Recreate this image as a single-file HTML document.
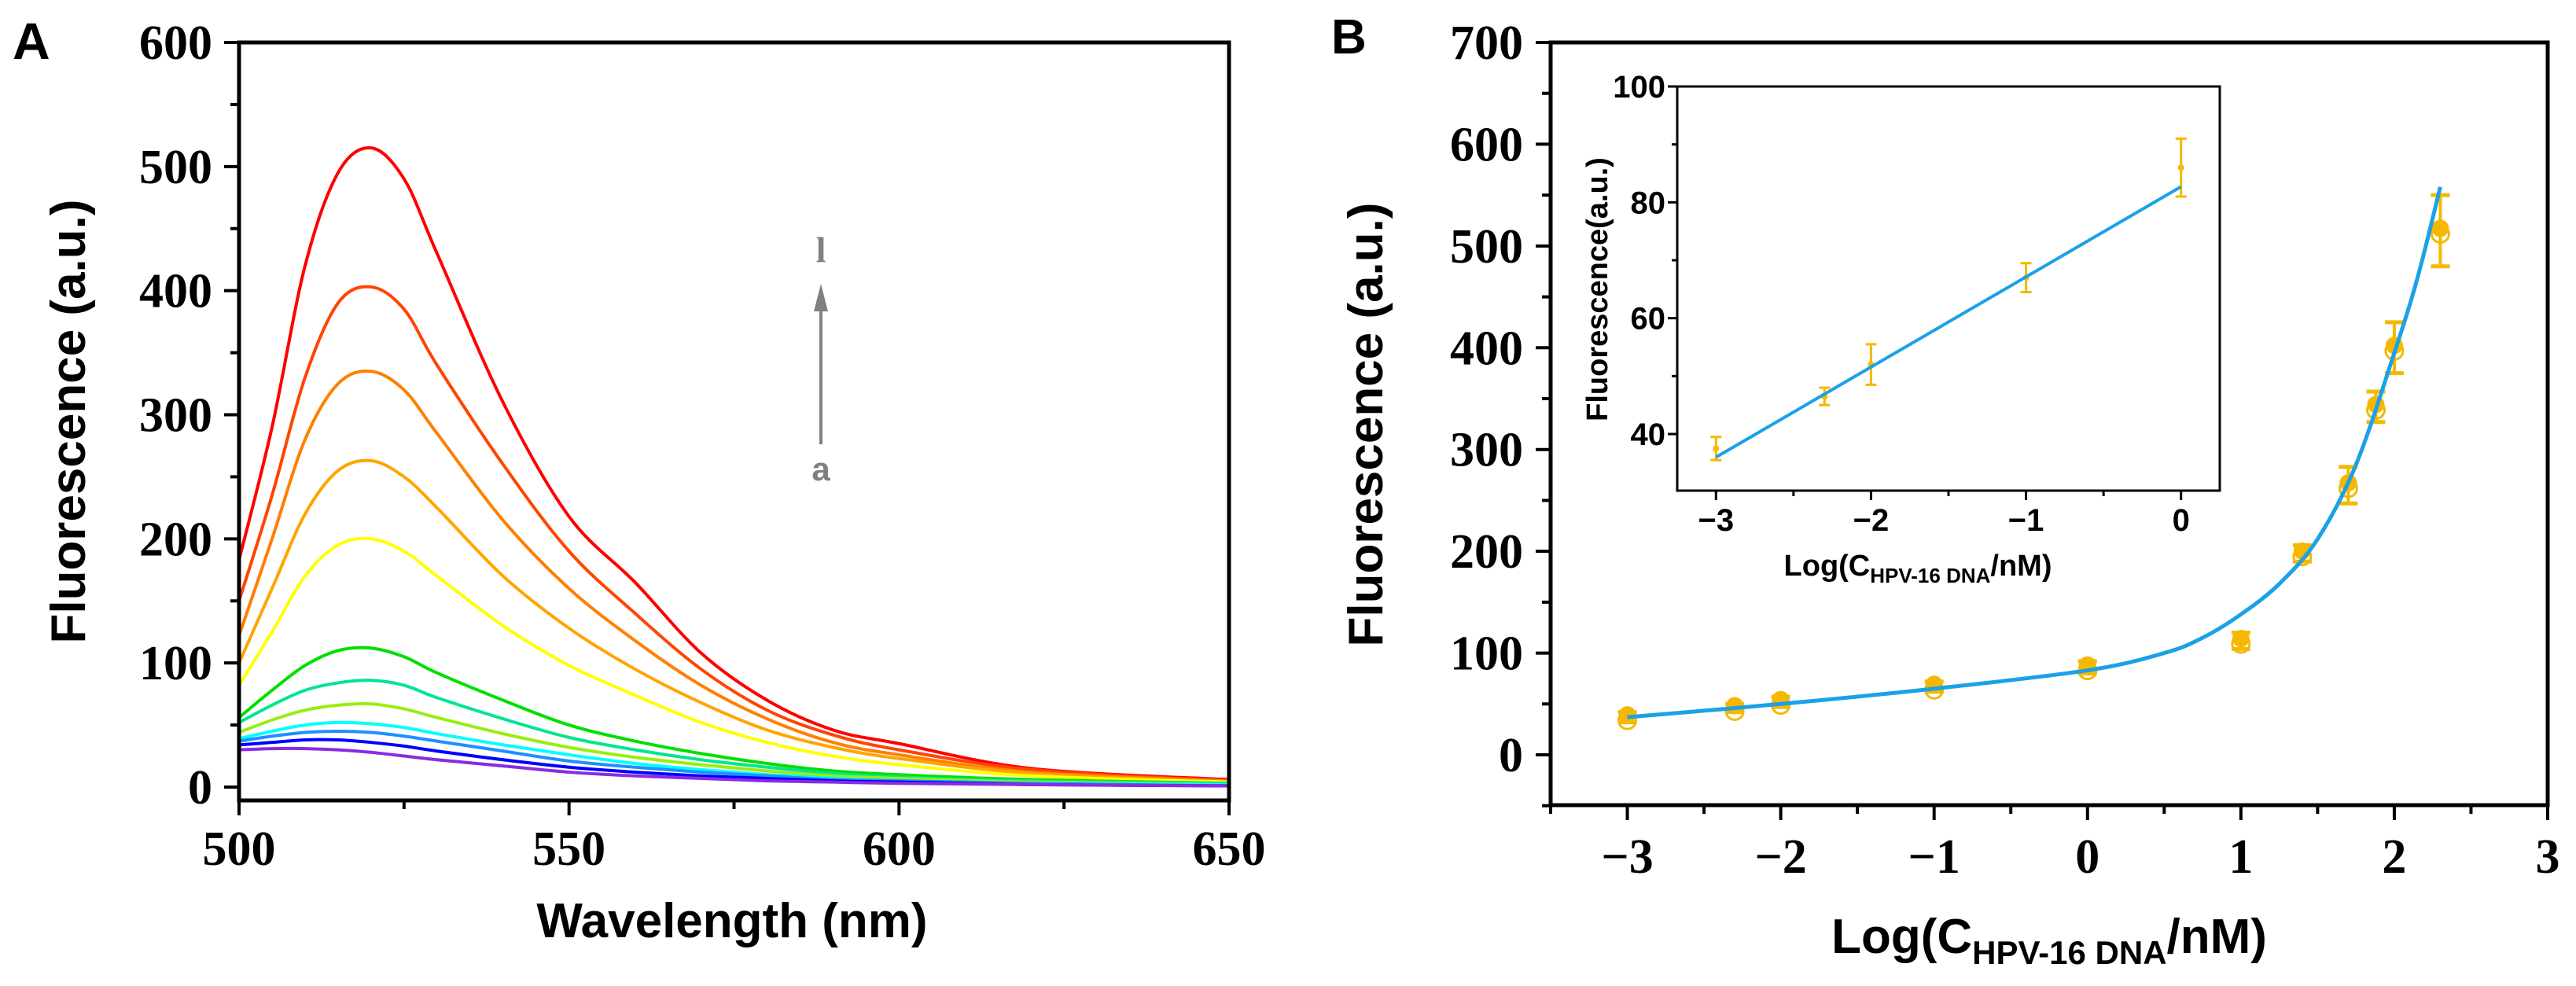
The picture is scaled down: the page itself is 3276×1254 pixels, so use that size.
<!DOCTYPE html>
<html><head><meta charset="utf-8"><style>
html,body{margin:0;padding:0;background:#fff;}
svg{display:block;}
.tk{font-family:"Liberation Serif",serif;font-weight:bold;font-size:62px;fill:#000;}
.ti{font-family:"Liberation Sans",sans-serif;font-weight:bold;fill:#000;}
.it{font-family:"Liberation Sans",sans-serif;font-weight:bold;font-size:40px;fill:#000;}
</style></head><body>
<svg id="fig" width="3276" height="1254" viewBox="0 0 3276 1254" xmlns="http://www.w3.org/2000/svg"></svg>
<script>
// ---------- Panel A data ----------
const wavelengths = [500,505,510,515,520,525,530,540,550,560,570,580,590,600,620,650];
const curveLabels = ['l','k','j','i','h','g','f','e','d','c','b','a'];
const curveColors = ['#ff0000','#ff4500','#ff7f00','#ffa500','#ffff00','#00e000','#00e690','#9aee10','#00ffff','#1e90ff','#0000ff','#8a2be2'];
const sRed     = [183,290,420,495,515,490,430,310,218,165,108,70,46,35,15,6];
const sOrRed   = [150,235,330,390,403,385,340,260,190,140,95,62,42,30,14,5];
const sOrange  = [122,200,280,325,335,320,285,215,160,118,82,55,36,26,12,5];
const sLtOr    = [100,160,220,255,263,250,225,170,128,95,68,46,32,23,11,4];
const sYellow  = [82,125,170,195,200,190,170,130,98,74,52,36,25,18,9,4];
const sGreen   = [56,78,98,110,112,105,92,70,50,37,27,19,13,10,6,3];
const sTeal    = [52,66,78,84,86,82,72,55,40,30,22,16,11,8,5,3];
const sYG      = [44,54,62,66,67,63,56,43,32,24,18,13,9,7,4,2];
const sCyan    = [39,45,50,52,51,48,43,34,26,19,14,10,7,5,3,2];
const sBlue    = [37,41,44,45,44,41,37,29,21,16,12,9,6,5,3,1];
const sDkBlue  = [34,36,38,38,36,33,29,22,16,12,9,7,5,4,2,1];
const sPurple  = [30,31,31,30,28,25,22,17,12,9,7,5,4,3,2,1];
const seriesA = [sRed,sOrRed,sOrange,sLtOr,sYellow,sGreen,sTeal,sYG,sCyan,sBlue,sDkBlue,sPurple];
const aXTicks = [500,550,600,650];
const aYTicks = [0,100,200,300,400,500,600];

// ---------- Panel B data ----------
const bX   = [-3,-2.3,-2,-1,0,1,1.4,1.7,1.88,2,2.3];
const bY   = [37,46,52,67,86,112,198,265,342,400,515];
const bErr = [5,4,5,5,6,8,8,18,15,25,35];
const fitX = [-3,-2,-1,0,0.5,0.75,1,1.25,1.5,1.75,2,2.15,2.3];
const fitY = [37,50,65,83,100,115,138,168,212,285,395,468,558];
const bXTicks = [-3,-2,-1,0,1,2,3];
const bYTicks = [0,100,200,300,400,500,600,700];

// ---------- Inset data ----------
const insX   = [-3,-2.3,-2,-1,0];
const insY   = [37.5,46.5,52,67,86];
const insErr = [2,1.5,3.5,2.5,5];
const insFitX = [-3,0];
const insFitY = [36,82.7];
const insXTicks = [-3,-2,-1,0];
const insYTicks = [40,60,80,100];

const NS='http://www.w3.org/2000/svg';
const svg=document.getElementById('fig');
function mk(tag,attrs,parent){const e=document.createElementNS(NS,tag);for(const k in attrs)e.setAttribute(k,attrs[k]);(parent||svg).appendChild(e);return e;}
function lin(d0,d1,r0,r1){return v=>r0+(v-d0)*(r1-r0)/(d1-d0);}
function smooth(pts){let d='M'+pts[0][0]+','+pts[0][1];for(let i=0;i<pts.length-1;i++){const p0=pts[Math.max(0,i-1)],p1=pts[i],p2=pts[i+1],p3=pts[Math.min(pts.length-1,i+2)];const c1x=p1[0]+(p2[0]-p0[0])/6,c1y=p1[1]+(p2[1]-p0[1])/6,c2x=p2[0]-(p3[0]-p1[0])/6,c2y=p2[1]-(p3[1]-p1[1])/6;d+=' C'+c1x+','+c1y+' '+c2x+','+c2y+' '+p2[0]+','+p2[1];}return d;}

// ================= Panel A =================
const axL=304, axR=1563, axT=54, axB=1018;
const ax=lin(500,650,axL,axR), ay=lin(0,600,1001,54);
const gA=mk('g',{});


seriesA.forEach((s,i)=>{
  const p=mk('path',{d:smooth(wavelengths.map((w,j)=>[ax(w),ay(s[j])])),fill:'none',stroke:curveColors[i],'stroke-width':4,'stroke-linejoin':'round'},gA);
  
  
});
const frameA=mk('rect',{x:axL,y:axT,width:axR-axL,height:axB-axT,fill:'none',stroke:'#000','stroke-width':5},gA);


for(let v=0;v<=600;v+=50){const major=v%100===0;mk('line',{x1:axL,x2:axL-(major?19:11),y1:ay(v),y2:ay(v),stroke:'#000','stroke-width':4},gA);}
aYTicks.forEach(v=>{const t=mk('text',{x:270,y:ay(v)+21,'text-anchor':'end',class:'tk'},gA);t.textContent=v;
  
  });
for(let v=500;v<=650;v+=25){const major=v%50===0;mk('line',{x1:ax(v),x2:ax(v),y1:axB,y2:axB+(major?19:11),stroke:'#000','stroke-width':4},gA);}
aXTicks.forEach(v=>{const t=mk('text',{x:ax(v),y:1100,'text-anchor':'middle',class:'tk'},gA);t.textContent=v;
  
  });
let t=mk('text',{x:931,y:1192,'text-anchor':'middle',class:'ti','font-size':62},gA);t.textContent='Wavelength (nm)';


t=mk('text',{x:0,y:0,'text-anchor':'middle',class:'ti','font-size':62,transform:'translate(108,536) rotate(-90)'},gA);t.textContent='Fluorescence (a.u.)';


t=mk('text',{x:16,y:75,class:'ti','font-size':66},gA);t.textContent='A';


const arr=mk('line',{x1:1044,x2:1044,y1:565,y2:392,stroke:'#808080','stroke-width':4},gA);


mk('polygon',{points:'1044,361 1035,396 1053,396',fill:'#808080'},gA);
t=mk('text',{x:1044,y:333,'text-anchor':'middle','font-family':'Liberation Serif, serif','font-weight':'bold','font-size':46,fill:'#808080'},gA);t.textContent='l';


t=mk('text',{x:1044,y:611,'text-anchor':'middle','font-family':'Liberation Sans, sans-serif','font-weight':'bold','font-size':42,fill:'#808080'},gA);t.textContent='a';



// ================= Panel B =================
const bL=1972,bR=3240,bT=54,bB=1024;
const bx=lin(-3.5,3,bL,bR), by=lin(0,700,960,54);
const gB=mk('g',{});


const frameB=mk('rect',{x:bL,y:bT,width:bR-bL,height:bB-bT,fill:'none',stroke:'#000','stroke-width':5},gB);


for(let v=-50;v<=700;v+=50){const major=v%100===0;mk('line',{x1:bL,x2:bL-(major?19:11),y1:by(v),y2:by(v),stroke:'#000','stroke-width':4},gB);}
bYTicks.forEach(v=>{const e=mk('text',{x:1937,y:by(v)+21,'text-anchor':'end',class:'tk'},gB);e.textContent=v;
  
  });
for(let v=-3.5;v<=3.001;v+=0.5){const major=Math.abs(v-Math.round(v))<1e-6;mk('line',{x1:bx(v),x2:bx(v),y1:bB,y2:bB+(major?19:11),stroke:'#000','stroke-width':4},gB);}
bXTicks.forEach(v=>{const e=mk('text',{x:bx(v),y:1110,'text-anchor':'middle',class:'tk'},gB);e.textContent=(v<0?'\u2212'+(-v):v);
  
  });
t=mk('text',{x:2606,y:1212,'text-anchor':'middle',class:'ti','font-size':62},gB);
t.innerHTML='Log(C<tspan font-size="42" dy="14">HPV-16 DNA</tspan><tspan dy="-14">/nM)</tspan>';


t=mk('text',{x:0,y:0,'text-anchor':'middle',class:'ti','font-size':62,transform:'translate(1758,540) rotate(-90)'},gB);t.textContent='Fluorescence (a.u.)';


t=mk('text',{x:1693,y:68,class:'ti','font-size':62},gB);t.textContent='B';


const OR='#f5b800';
bX.forEach((x,i)=>{
  const g=mk('g',{},gB);
  
  
  const X=bx(x),Y=by(bY[i]),t1=by(bY[i]+bErr[i]),b1=by(bY[i]-bErr[i]);
  mk('line',{x1:X,x2:X,y1:t1,y2:b1,stroke:OR,'stroke-width':4},g);
  mk('line',{x1:X-12,x2:X+12,y1:t1,y2:t1,stroke:OR,'stroke-width':5},g);
  mk('line',{x1:X-12,x2:X+12,y1:b1,y2:b1,stroke:OR,'stroke-width':5},g);
  mk('circle',{cx:X,cy:Y-3,r:11,fill:OR},g);
  mk('circle',{cx:X,cy:Y+4,r:11,fill:'none',stroke:OR,'stroke-width':3},g);
});
const fit=mk('path',{d:smooth(fitX.map((x,i)=>[bx(x),by(fitY[i])])),fill:'none',stroke:'#1ba1e6','stroke-width':5},gB);



// ================= Inset =================
const iL=2133,iR=2823,iT=110,iB=624;
const ix=lin(-3.25,0.25,iL,iR), iy=lin(40,100,552,110);
const gI=mk('g',{});


const frameI=mk('rect',{x:iL,y:iT,width:iR-iL,height:iB-iT,fill:'#fff',stroke:'#000','stroke-width':3},gI);


for(let v=40;v<=100;v+=10){const major=v%20===0;mk('line',{x1:iL,x2:iL-(major?12:7),y1:iy(v),y2:iy(v),stroke:'#000','stroke-width':3},gI);}
insYTicks.forEach(v=>{const e=mk('text',{x:2118,y:iy(v)+14,'text-anchor':'end',class:'it'},gI);e.textContent=v;
  
  });
for(let v=-3;v<=0.001;v+=0.5){const major=Math.abs(v-Math.round(v))<1e-6;mk('line',{x1:ix(v),x2:ix(v),y1:iB,y2:iB+(major?12:7),stroke:'#000','stroke-width':3},gI);}
insXTicks.forEach(v=>{const e=mk('text',{x:ix(v),y:675,'text-anchor':'middle',class:'it'},gI);e.textContent=(v<0?'\u2212'+(-v):v);
  
  });
t=mk('text',{x:2439,y:732,'text-anchor':'middle',class:'ti','font-size':38},gI);
t.innerHTML='Log(C<tspan font-size="26" dy="9">HPV-16 DNA</tspan><tspan dy="-9">/nM)</tspan>';


t=mk('text',{x:0,y:0,'text-anchor':'middle',class:'ti','font-size':38,transform:'translate(2044,368) rotate(-90)'},gI);t.textContent='Fluorescence(a.u.)';


insX.forEach((x,i)=>{
  const g=mk('g',{},gI);
  
  
  const X=ix(x),t1=iy(insY[i]+insErr[i]),b1=iy(insY[i]-insErr[i]);
  mk('line',{x1:X,x2:X,y1:t1,y2:b1,stroke:OR,'stroke-width':3},g);
  mk('line',{x1:X-7,x2:X+7,y1:t1,y2:t1,stroke:OR,'stroke-width':3},g);
  mk('line',{x1:X-7,x2:X+7,y1:b1,y2:b1,stroke:OR,'stroke-width':3},g);
  mk('circle',{cx:X,cy:iy(insY[i]),r:4,fill:OR},g);
});
const ifit=mk('line',{x1:ix(insFitX[0]),y1:iy(insFitY[0]),x2:ix(insFitX[1]),y2:iy(insFitY[1]),stroke:'#1ba1e6','stroke-width':4},gI);


</script>
</body></html>
